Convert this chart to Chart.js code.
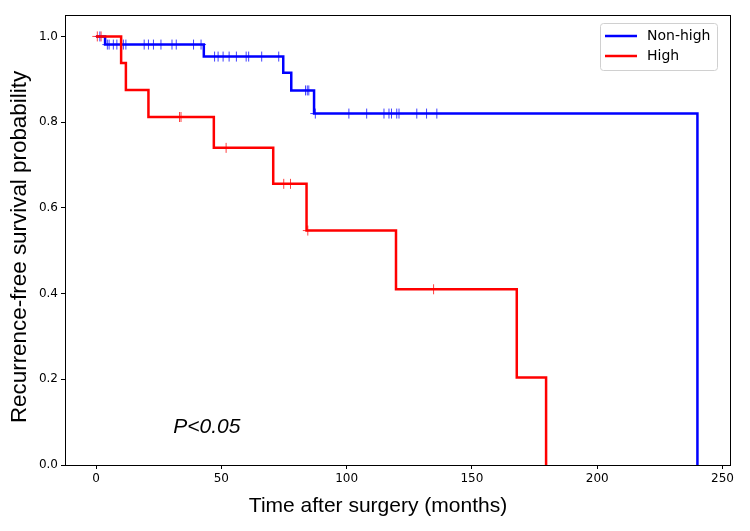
<!DOCTYPE html>
<html>
<head>
<meta charset="utf-8">
<script src="https://cdn.jsdelivr.net/npm/chart.js@4"></script>
<style>
  html, body { margin: 0; padding: 0; background: #fff; }
  #wrap { width: 750px; height: 531px; }
</style>
</head>
<body>
<div id="wrap"><canvas id="km"></canvas></div>
<script>
const xTicks = [0, 50, 100, 150, 200, 250];
const yTicks = [0, 0.2, 0.4, 0.6, 0.8, 1.0];

// Kaplan-Meier steps (time in months, survival after the event)
const nonHighTimes = [0, 3.6, 43, 74.7, 77.9, 87, 240];
const nonHighSurv = [1, 0.981, 0.953, 0.915, 0.874, 0.820, 0];
const nonHighCensored = [1.5, 4.5, 5.2, 6.9, 8.3, 10.9, 11.9, 19.2, 20.9, 22.9, 25.9, 30.3, 32, 38.9, 41.9,
    47.3, 48.7, 50.7, 53.1, 56, 59.9, 60.9, 66.1, 72.9, 83.6, 84.3, 84.9,
    87.5, 100.9, 108, 114.9, 116.9, 117.9, 120, 120.9, 128, 131.9, 136];

const highTimes = [0, 10, 11.9, 20.9, 47, 70.7, 84, 119.7, 167.9, 179.6];
const highSurv = [1, 0.938, 0.875, 0.812, 0.740, 0.656, 0.547, 0.410, 0.204, 0];
const highCensored = [0.5, 2, 33.3, 33.9, 51.9, 74.9, 77.6, 84.5, 134.7];

function survAt(times, surv, t) {
    let s = surv[0];
    for (let i = 0; i < times.length; i++) {
        if (times[i] <= t) s = surv[i];
    }
    return s;
}

const stepPoints = (times, surv) => times.map((t, i) => ({x: t, y: surv[i]}));
const censorPoints = (cens, times, surv) => cens.map(t => ({x: t, y: survAt(times, surv, t)}));

const framePlugin = {
    id: "frame",
    afterDraw(chart) {
        const ctx = chart.ctx;
        const a = chart.chartArea;
        ctx.save();
        ctx.strokeStyle = "#000";
        ctx.lineWidth = 1;
        ctx.strokeRect(a.left + 0.5, a.top + 0.5, a.right - a.left, a.bottom - a.top);

        // legend box
        const lx = a.right - 130, ly = a.top + 8;
        ctx.fillStyle = "rgba(255,255,255,0.8)";
        ctx.strokeStyle = "#d0d0d0";
        ctx.beginPath();
        ctx.roundRect(lx + 0.5, ly + 0.5, 117, 47, 3);
        ctx.fill();
        ctx.stroke();
        const items = [["Non-high", "#0000ff"], ["High", "#ff0000"]];
        ctx.font = "14px 'DejaVu Sans'";
        ctx.textBaseline = "middle";
        items.forEach((it, i) => {
            const yy = ly + 13 + i * 20;
            ctx.strokeStyle = it[1];
            ctx.lineWidth = 2.5;
            ctx.beginPath();
            ctx.moveTo(lx + 5, yy);
            ctx.lineTo(lx + 37, yy);
            ctx.stroke();
            ctx.fillStyle = "#000";
            ctx.fillText(it[0], lx + 47, yy);
        });

        // axis titles
        ctx.fillStyle = "#000";
        ctx.textAlign = "center";
        ctx.textBaseline = "middle";
        ctx.font = "21px 'Liberation Sans'";
        ctx.fillText("Time after surgery (months)", 378, 506);
        ctx.save();
        ctx.translate(20, 247);
        ctx.rotate(-Math.PI / 2);
        ctx.font = "22.4px 'Liberation Sans'";
        ctx.fillText("Recurrence-free survival probability", 0, 0);
        ctx.restore();

        // p-value annotation
        ctx.textAlign = "left";
        ctx.font = "italic 21px 'Liberation Sans'";
        ctx.textBaseline = "alphabetic";
        ctx.fillText("P<0.05", chart.scales.x.getPixelForValue(30.8), chart.scales.y.getPixelForValue(0.075));
        ctx.restore();
    }
};

const ctx = document.getElementById("km");
const kmChart = new Chart(ctx, {
    type: "scatter",
    data: {
        datasets: [
            {
                label: "High",
                data: stepPoints(highTimes, highSurv),
                showLine: true,
                stepped: true,
                borderColor: "#ff0000",
                borderWidth: 2.5,
                pointRadius: 0,
                order: 1
            },
            {
                label: "High censored",
                data: censorPoints(highCensored, highTimes, highSurv),
                showLine: false,
                pointStyle: "cross",
                pointRadius: 5,
                borderWidth: 1,
                borderColor: "rgba(255,0,0,0.75)",
                order: 0
            },
            {
                label: "Non-high",
                data: stepPoints(nonHighTimes, nonHighSurv),
                showLine: true,
                stepped: true,
                borderColor: "#0000ff",
                borderWidth: 2.5,
                pointRadius: 0,
                order: 3
            },
            {
                label: "Non-high censored",
                data: censorPoints(nonHighCensored, nonHighTimes, nonHighSurv),
                showLine: false,
                pointStyle: "cross",
                pointRadius: 5,
                borderWidth: 1,
                borderColor: "rgba(0,0,255,0.75)",
                order: 2
            }
        ]
    },
    options: {
        responsive: true,
        maintainAspectRatio: false,
        animation: false,
        layout: { padding: { top: 15, right: 20, left: 0, bottom: 0 } },
        plugins: {
            legend: { display: false },
            tooltip: { enabled: false }
        },
        scales: {
            x: {
                type: "linear",
                min: -12.4,
                max: 253,
                afterBuildTicks: s => { s.ticks = xTicks.map(v => ({value: v})); },
                afterFit: s => { s.height = 66; },
                grid: { drawOnChartArea: false, drawTicks: true, tickLength: 4, tickColor: "#000" },
                border: { display: true, color: "#000" },
                ticks: { color: "#000", font: { family: "DejaVu Sans", size: 12 }, padding: 3, maxRotation: 0 },
                title: { display: false }
            },
            y: {
                type: "linear",
                min: 0,
                max: 1.05,
                afterBuildTicks: s => { s.ticks = yTicks.map(v => ({value: v})); },
                afterFit: s => { s.width = 65; },
                grid: { drawOnChartArea: false, drawTicks: true, tickLength: 4, tickColor: "#000" },
                border: { display: true, color: "#000" },
                ticks: { color: "#000", font: { family: "DejaVu Sans", size: 12 }, padding: 3,
                    callback: v => v.toFixed(1) },
                title: { display: false }
            }
        }
    },
    plugins: [framePlugin]
});
</script>
</body>
</html>
